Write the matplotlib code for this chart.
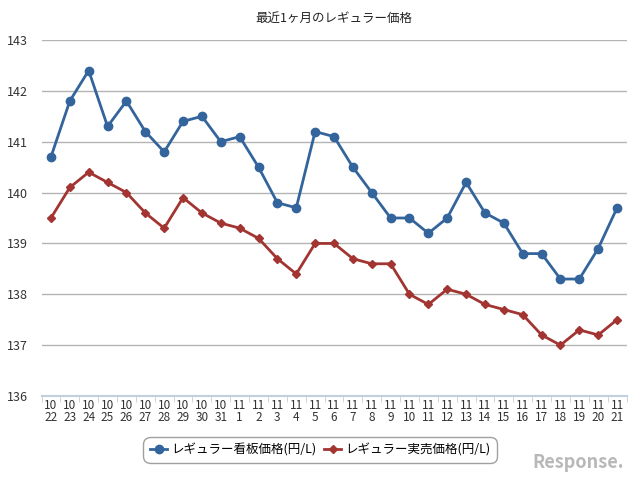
import matplotlib.pyplot as plt
import numpy as np

plt.rcParams['font.family'] = ['Noto Sans CJK JP', 'DejaVu Sans']

months = [10] * 10 + [11] * 21
days = list(range(22, 32)) + list(range(1, 22))
kanban = [140.7, 141.8, 142.4, 141.3, 141.8, 141.2, 140.8, 141.4, 141.5, 141.0,
          141.1, 140.5, 139.8, 139.7, 141.2, 141.1, 140.5, 140.0, 139.5, 139.5,
          139.2, 139.5, 140.2, 139.6, 139.4, 138.8, 138.8, 138.3, 138.3, 138.9, 139.7]
jitsubai = [139.5, 140.1, 140.4, 140.2, 140.0, 139.6, 139.3, 139.9, 139.6, 139.4,
            139.3, 139.1, 138.7, 138.4, 139.0, 139.0, 138.7, 138.6, 138.6, 138.0,
            137.8, 138.1, 138.0, 137.8, 137.7, 137.6, 137.2, 137.0, 137.3, 137.2, 137.5]

fig = plt.figure(figsize=(6.4, 4.83), dpi=100)
ax = fig.add_axes([41.5 / 640, 1 - 396 / 483, 585 / 640, 356 / 483])

x = np.arange(len(days))
ax.plot(x, kanban, color='#33649c', lw=2, marker='o', ms=6, label='レギュラー看板価格(円/L)')
ax.plot(x, jitsubai, color='#a23531', lw=2, marker='D', ms=4, label='レギュラー実売価格(円/L)')

ax.set_xlim(-0.5, len(days) - 0.5)
ax.set_ylim(136, 143)
ax.set_yticks(range(136, 144))
ax.yaxis.grid(True, color='#b4b4b4', lw=1)
ax.set_axisbelow(True)
for s in ['top', 'right', 'left']:
    ax.spines[s].set_visible(False)
ax.spines['bottom'].set_color('#c0d0dc')
ax.spines['bottom'].set_linewidth(1.5)

ax.set_xticks(x)
ax.set_xticklabels([f'{m}\n{d}' for m, d in zip(months, days)], fontsize=8.5,
                   linespacing=0.95, color='#333333')
ax.tick_params(axis='x', length=0, pad=2)
ax.set_xticks(np.arange(-0.5, len(days)), minor=True)
ax.tick_params(axis='x', which='minor', length=4, color='#c0d0dc')
ax.tick_params(axis='y', length=0, labelsize=9, pad=10, labelcolor='#333333')

ax.set_title('最近1ヶ月のレギュラー価格', fontsize=9, pad=13, color='#222222')

leg = fig.legend(loc='center', bbox_to_anchor=(320 / 640, 1 - 450 / 483), ncol=2,
                 fontsize=9, frameon=True, fancybox=True, edgecolor='#888888',
                 handlelength=1.4, columnspacing=0.6, handletextpad=0.3,
                 borderpad=0.35)
leg.get_frame().set_boxstyle('round', pad=0.2, rounding_size=0.6)

fig.text(578 / 640, 1 - 462 / 483, 'Response.', fontsize=13, color='#b8b8b8',
         ha='center', va='center', fontweight='bold', style='italic')

fig.savefig('out.png')
